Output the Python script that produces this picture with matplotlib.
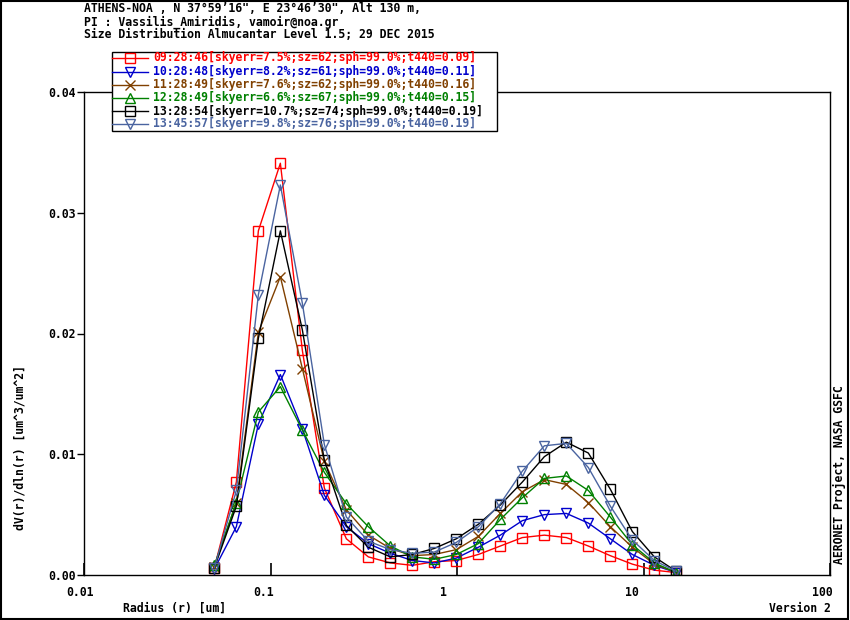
import matplotlib
matplotlib.use("Agg")
import matplotlib.pyplot as plt
import matplotlib.transforms as mtransforms
from matplotlib.lines import Line2D
from matplotlib.patches import Rectangle
import numpy as np

# AERONET radius bins (um)
radius = [0.050000, 0.065604, 0.086077, 0.112939, 0.148184, 0.194429, 0.255105,
          0.334716, 0.439173, 0.576227, 0.756052, 0.991996, 1.301571, 1.707757,
          2.240702, 2.939966, 3.857452, 5.061260, 6.640745, 8.713145, 11.432287, 15.000000]

s0928 = [0.0006, 0.0077, 0.0285, 0.0341, 0.0186, 0.0072, 0.0030, 0.0015, 0.0010, 0.0008, 0.0011,
         0.0012, 0.0017, 0.0024, 0.0031, 0.0033, 0.0031, 0.0024, 0.0016, 0.0009, 0.0004, 0.0002]
s1028 = [0.0005, 0.0040, 0.0125, 0.0166, 0.0121, 0.0066, 0.0040, 0.0026, 0.0018, 0.0012, 0.0010,
         0.0014, 0.0023, 0.0033, 0.0045, 0.0050, 0.0051, 0.0043, 0.0030, 0.0017, 0.0008, 0.0002]
s1128 = [0.0007, 0.0060, 0.0201, 0.0247, 0.0171, 0.0094, 0.0054, 0.0033, 0.0022, 0.0016, 0.0017,
         0.0021, 0.0032, 0.0051, 0.0069, 0.0079, 0.0075, 0.0060, 0.0040, 0.0023, 0.0009, 0.0002]
s1228 = [0.0008, 0.0060, 0.0135, 0.0156, 0.0120, 0.0085, 0.0059, 0.0040, 0.0024, 0.0015, 0.0013,
         0.0017, 0.0026, 0.0046, 0.0064, 0.0080, 0.0082, 0.0070, 0.0048, 0.0025, 0.0010, 0.0002]
s1328 = [0.0006, 0.0057, 0.0196, 0.0285, 0.0203, 0.0095, 0.0041, 0.0023, 0.0015, 0.0017, 0.0022,
         0.0030, 0.0042, 0.0058, 0.0077, 0.0098, 0.0110, 0.0101, 0.0071, 0.0036, 0.0015, 0.0003]
s1345 = [0.0006, 0.0070, 0.0232, 0.0323, 0.0225, 0.0108, 0.0048, 0.0028, 0.0021, 0.0018, 0.0019,
         0.0027, 0.0040, 0.0059, 0.0086, 0.0107, 0.0109, 0.0089, 0.0057, 0.0029, 0.0012, 0.0003]

labels = ["09:28:46[skyerr=7.5%;sz=62;sph=99.0%;t440=0.09]",
          "10:28:48[skyerr=8.2%;sz=61;sph=99.0%;t440=0.11]",
          "11:28:49[skyerr=7.6%;sz=62;sph=99.0%;t440=0.16]",
          "12:28:49[skyerr=6.6%;sz=67;sph=99.0%;t440=0.15]",
          "13:28:54[skyerr=10.7%;sz=74;sph=99.0%;t440=0.19]",
          "13:45:57[skyerr=9.8%;sz=76;sph=99.0%;t440=0.19]"]
series = [s0928, s1028, s1128, s1228, s1328, s1345]
colors = ["#ff0000", "#0000cc", "#804000", "#008000", "#000000", "#4a64a0"]
markers = ["s", "v", "x", "^", "s", "v"]

xticks = [0.01, 0.1, 1, 10, 100]
xticklabels = ["0.01", "0.1", "1", "10", "100"]
yticks = [0.0, 0.01, 0.02, 0.03, 0.04]
yticklabels = ["0.00", "0.01", "0.02", "0.03", "0.04"]

W, H = 850, 620
FONT = "DejaVu Sans Mono"
FS = 8.3

def fx(x):
    return x / W

def fy(y):
    return 1 - y / H

fig = plt.figure(figsize=(8.5, 6.2), dpi=100)
fig.patch.set_facecolor("white")
ax = fig.add_axes([fx(84), fy(575), (830 - 84) / W, (575 - 92) / H])

for vals, c, m in zip(series, colors, markers):
    ax.plot(radius, vals, color=c, lw=1.0, marker=m, markersize=7,
            markerfacecolor="none", markeredgecolor=c, markeredgewidth=1.0)

ax.set_xscale("log")
ax.set_xlim(0.01, 100)
ax.set_ylim(0, 0.04)
ax.set_xticks(xticks)
ax.set_xticklabels(xticklabels)
ax.set_yticks(yticks)
ax.set_yticklabels(yticklabels)
ax.xaxis.set_minor_locator(matplotlib.ticker.NullLocator())
ax.tick_params(axis="x", direction="in", length=9, width=1.2, pad=8)
ax.tick_params(axis="y", direction="out", length=5, width=1.0, pad=1)
for lab in ax.get_xticklabels() + ax.get_yticklabels():
    lab.set_fontfamily(FONT)
    lab.set_fontweight("bold")
    lab.set_fontsize(FS)
# the original places x tick labels slightly left of their ticks
x_shift_px = [-4, -7, -14, -12, -8]
for lab, dx in zip(ax.get_xticklabels(), x_shift_px):
    lab.set_transform(lab.get_transform() +
                      mtransforms.ScaledTranslation(dx / 100.0, 0, fig.dpi_scale_trans))
for sp in ax.spines.values():
    sp.set_linewidth(1.0)
    sp.set_color("black")

# Figure frame
fig.add_artist(Rectangle((0.001, 0.001), 0.997, 0.997, transform=fig.transFigure,
                         fill=False, edgecolor="black", lw=1.5))

# Header text
header = ["ATHENS-NOA , N 37\u00b059\u201916\", E 23\u00b046\u201930\", Alt 130 m,",
          "PI : Vassilis_Amiridis, vamoir@noa.gr",
          "Size Distribution Almucantar Level 1.5; 29 DEC 2015"]
for i, t in enumerate(header):
    fig.text(fx(84), fy(9 + 13 * i), t, fontfamily=FONT, fontweight="bold",
             fontsize=FS, va="center", ha="left", color="black")

# Legend
fig.add_artist(Rectangle((fx(112), fy(131)), (497 - 112) / W, (131 - 52) / H,
                         transform=fig.transFigure, fill=True, facecolor="white",
                         edgecolor="black", lw=1.0, zorder=5))
rows = [58, 71.5, 84.5, 97.5, 111, 124]
for lab, c, m, ry in zip(labels, colors, markers, rows):
    fig.add_artist(Line2D([fx(112), fx(148)], [fy(ry), fy(ry)], transform=fig.transFigure,
                          color=c, lw=1.0, zorder=6))
    fig.add_artist(Line2D([fx(130)], [fy(ry)], transform=fig.transFigure, marker=m,
                          markersize=7, markerfacecolor="none", markeredgecolor=c,
                          markeredgewidth=1.0, linestyle="none", zorder=6))
    fig.text(fx(153), fy(ry), lab, fontfamily=FONT, fontweight="bold", fontsize=FS,
             va="center", ha="left", color=c, zorder=7)

# Axis labels and side notes
fig.text(fx(20), fy(448), "dV(r)/dln(r) [um^3/um^2]", rotation=90, fontfamily=FONT,
         fontweight="bold", fontsize=FS, va="center", ha="center")
fig.text(fx(123), fy(608), "Radius (r) [um]", fontfamily=FONT, fontweight="bold",
         fontsize=FS, va="center", ha="left")
fig.text(fx(831), fy(608), "Version 2", fontfamily=FONT, fontweight="bold",
         fontsize=FS, va="center", ha="right")
fig.text(fx(839), fy(475), "AERONET Project, NASA GSFC", rotation=90, fontfamily=FONT,
         fontweight="bold", fontsize=FS, va="center", ha="center")

fig.savefig("out.png", dpi=100)
